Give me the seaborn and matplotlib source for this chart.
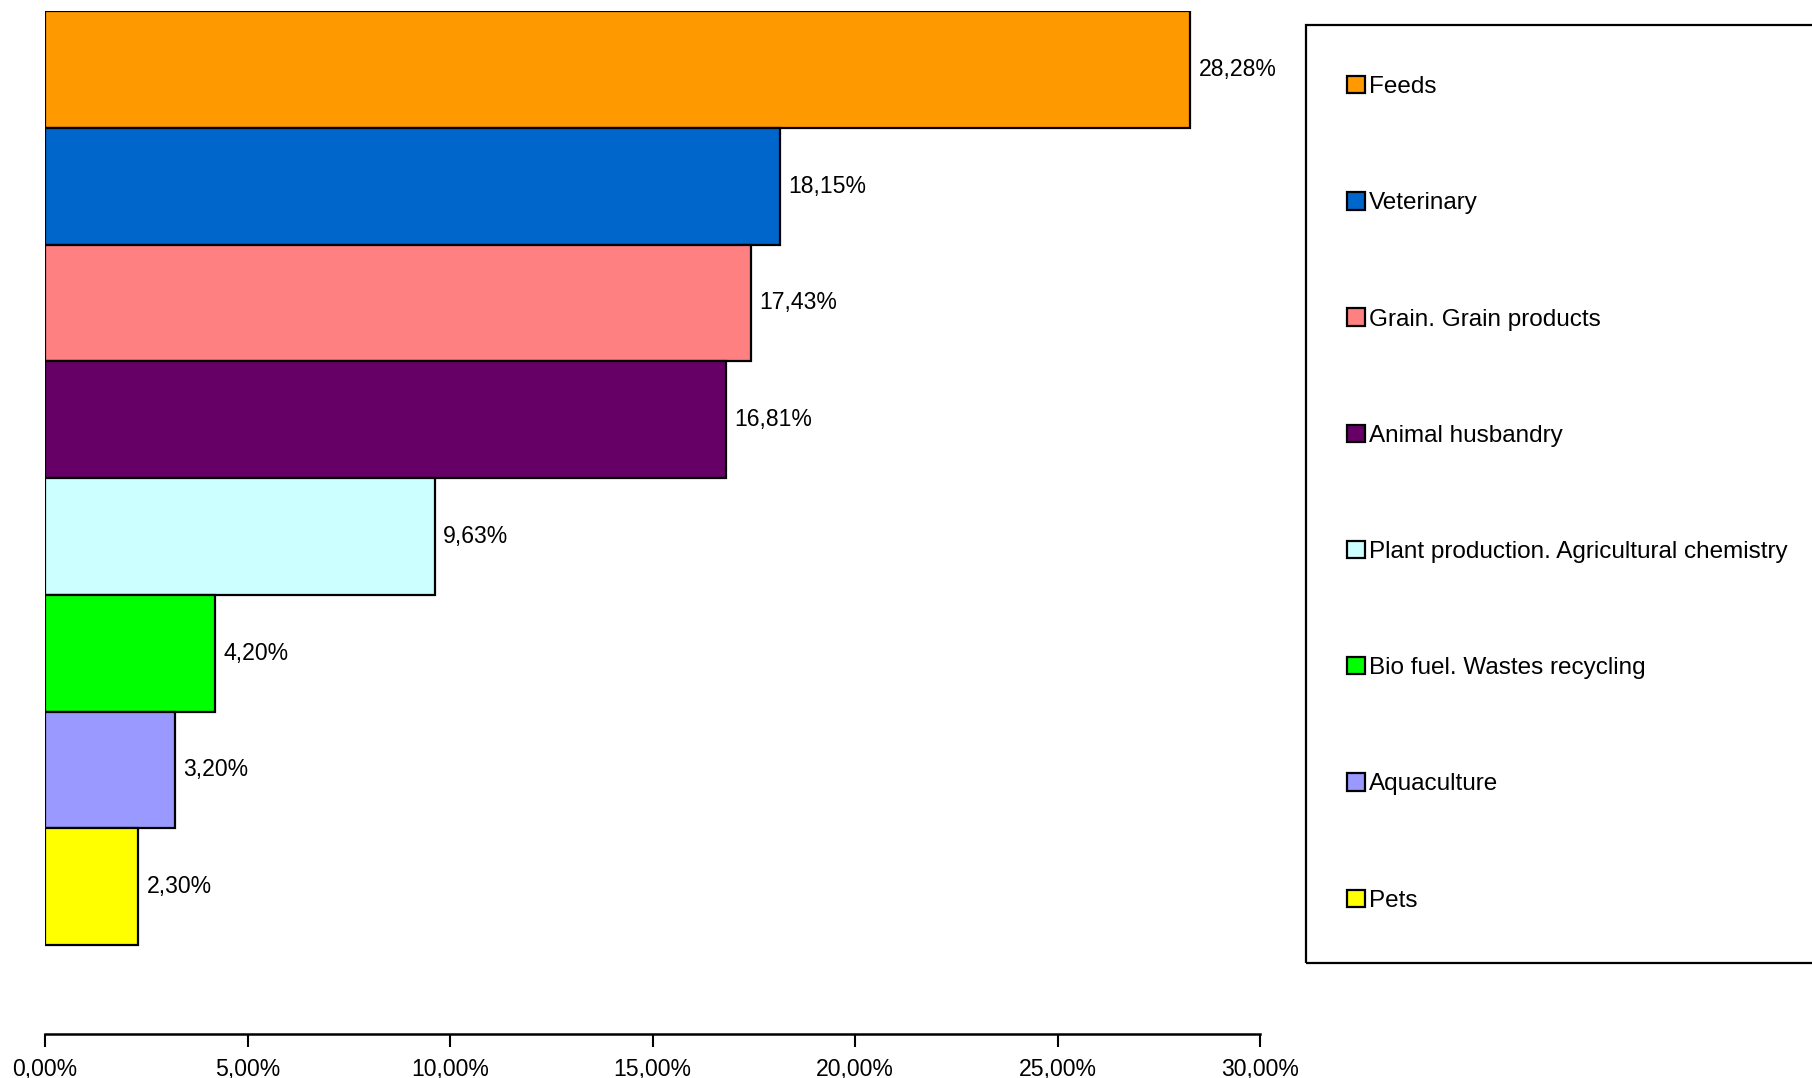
import matplotlib
matplotlib.use("Agg")
import matplotlib.pyplot as plt
from matplotlib.patches import Rectangle
from matplotlib.ticker import FuncFormatter
import seaborn as sns
import pandas as pd

# shares by sector, in percent
categories = ["Feeds", "Veterinary", "Grain. Grain products", "Animal husbandry",
              "Plant production. Agricultural chemistry", "Bio fuel. Wastes recycling",
              "Aquaculture", "Pets"]
shares = [28.28, 18.15, 17.43, 16.81, 9.63, 4.20, 3.20, 2.30]
colors = ["#FF9900", "#0066CC", "#FF8080", "#660066",
          "#CCFFFF", "#00FF00", "#9999FF", "#FFFF00"]
x_ticks = [0, 5, 10, 15, 20, 25, 30]


def pct(v, pos=None):
    return f"{v:.2f}%".replace(".", ",")


def main():
    sns.set_theme(style="white")
    plt.rcParams["font.family"] = ["Liberation Sans", "DejaVu Sans"]
    plt.rcParams["text.color"] = "black"
    plt.rcParams["xtick.color"] = "black"

    df = pd.DataFrame({"sector": categories, "share": shares})

    fig = plt.figure(figsize=(18.12, 10.78), dpi=100)
    ax = fig.add_axes([45 / 1812, 1 - 1034 / 1078, 1215 / 1812, 1023 / 1078])

    sns.barplot(data=df, x="share", y="sector", hue="sector", order=categories,
                hue_order=categories, palette=colors, dodge=False, width=1.0,
                edgecolor="black", linewidth=1.6, saturation=1, legend=True, ax=ax)

    for cont, v in zip(ax.containers, shares):
        ax.bar_label(cont, labels=[pct(v)], padding=6, fontsize=16.6, color="black")

    ax.set_xlim(0, 30)
    ax.set_ylim(8.262, -0.5)
    ax.set_xticks(x_ticks)
    ax.xaxis.set_major_formatter(FuncFormatter(pct))
    ax.tick_params(axis="x", direction="out", length=9, width=1.5, color="black",
                   labelsize=16.6, labelcolor="black", pad=8.5, bottom=True)
    ax.set_yticks([])
    ax.set_xlabel("")
    ax.set_ylabel("")
    for side in ["left", "top", "right"]:
        ax.spines[side].set_visible(False)
    ax.spines["bottom"].set_color("black")
    ax.spines["bottom"].set_linewidth(1.8)

    # legend moved out of the axes into a framed box on the right
    handles, labels = ax.get_legend_handles_labels()
    ax.get_legend().remove()
    for h in handles:
        h.set_edgecolor("black")
        h.set_linewidth(1.6)
    leg = fig.legend(handles, labels, loc="upper left",
                     bbox_to_anchor=(1347 / 1812, 1 - 76 / 1078), frameon=False,
                     fontsize=17.5, borderpad=0, borderaxespad=0, handlelength=0.72,
                     handleheight=0.72, handletextpad=0.2, labelspacing=3.87)
    for t in leg.get_texts():
        t.set_color("black")
    fig.patches.append(Rectangle((1306 / 1812, 1 - 963 / 1078), 0.3, 938 / 1078,
                                 transform=fig.transFigure, fill=False,
                                 edgecolor="black", linewidth=1.6))

    fig.savefig("out.png", dpi=100, facecolor="white")
    plt.close(fig)


if __name__ == "__main__":
    main()
